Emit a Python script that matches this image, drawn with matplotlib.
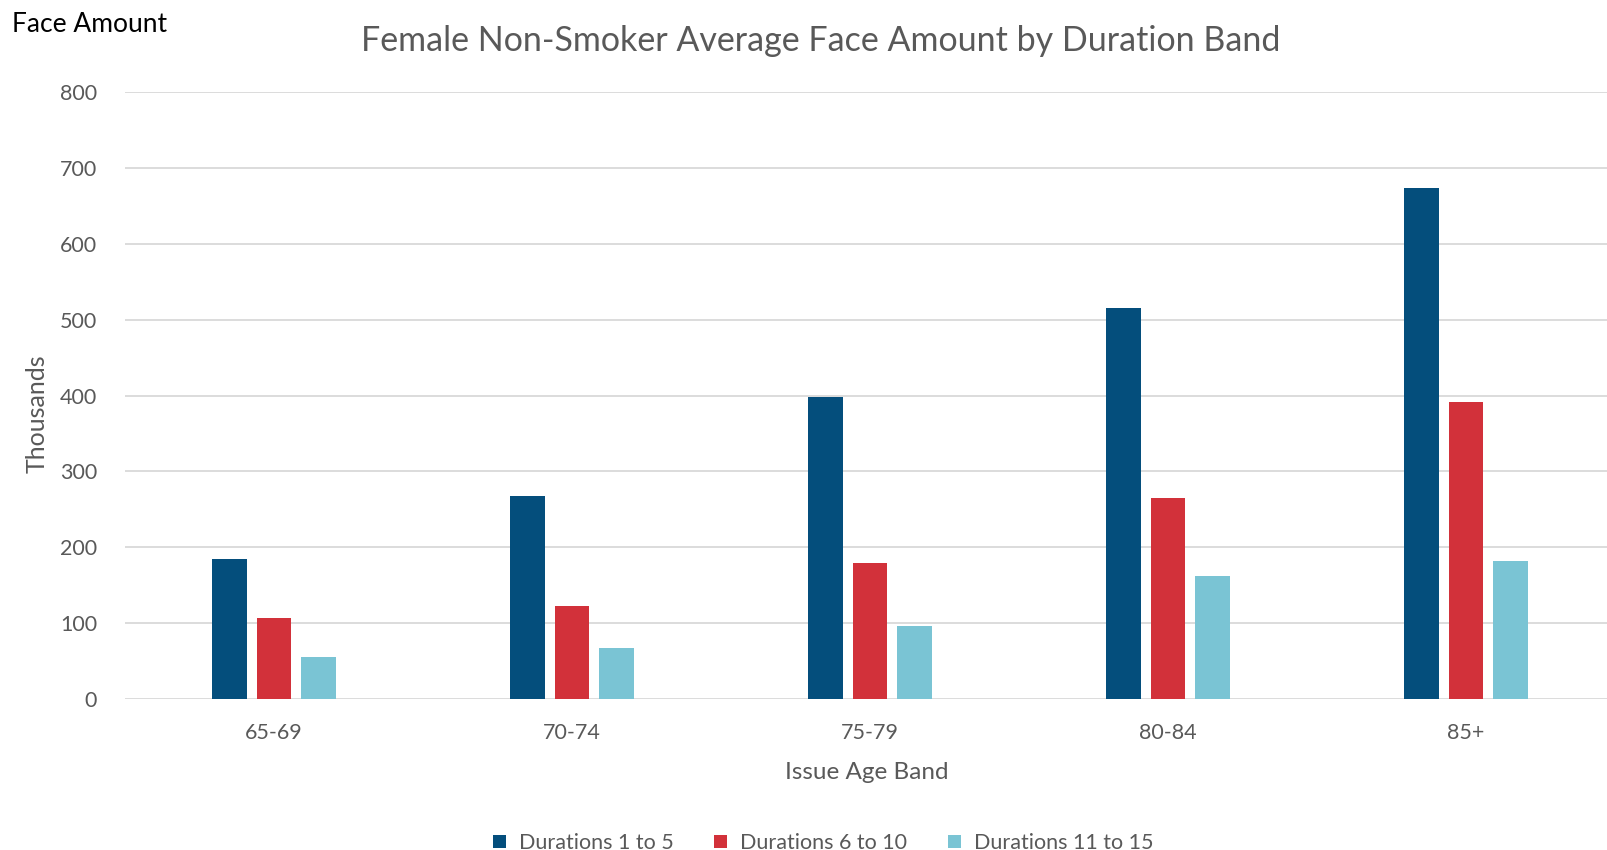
import numpy as np
import matplotlib
matplotlib.use("Agg")
import matplotlib.pyplot as plt
from matplotlib.patches import Patch

plt.rcParams['font.family'] = ['Lato', 'DejaVu Sans']

# dados (milhares)
faixas = ["65-69", "70-74", "75-79", "80-84", "85+"]
series = ["Durations 1 to 5", "Durations 6 to 10", "Durations 11 to 15"]
dur_1_5 = [185, 267, 398, 515, 674]
dur_6_10 = [107, 123, 179, 265, 392]
dur_11_15 = [56, 67, 96, 162, 182]
cores = ["#044E7C", "#D2313A", "#7AC4D4"]
cinza = "#595959"

W, H = 1608, 850
fig = plt.figure(figsize=(W / 100, H / 100), dpi=100)
ax = fig.add_axes([125 / W, 1 - 699 / H, (W - 125) / W, (699 - 92) / H])

x = np.arange(len(faixas))
passo = 0.148
larg = 0.117
for i, (vals, cor) in enumerate(zip([dur_1_5, dur_6_10, dur_11_15], cores)):
    ax.bar(x + (i - 1) * passo, vals, width=larg, color=cor, zorder=3)

ax.set_ylim(0, 800)
ax.set_yticks(range(0, 801, 100))
ax.set_xlim(-0.5, 4.5 - 7 / 298)
ax.set_xticks(x)
ax.set_xticklabels(faixas)
ax.grid(axis='y', color='#D9D9D9', linewidth=1.3, zorder=0)
for s in ax.spines.values():
    s.set_visible(False)
ax.tick_params(axis='both', length=0, labelsize=15.5, colors=cinza)
ax.tick_params(axis='y', pad=20)
ax.tick_params(axis='x', pad=17)

ax.set_xlabel("Issue Age Band", fontsize=17.5, color=cinza, labelpad=14)
fig.text(37 / W, 1 - 414 / H, "Thousands", rotation=90, fontsize=18, color=cinza,
         ha='center', va='center')
fig.text(12 / W, 1 - 25 / H, "Face Amount", fontsize=19, color='black', ha='left', va='center')
fig.text(821 / W, 1 - 41 / H, "Female Non-Smoker Average Face Amount by Duration Band",
         fontsize=24.5, color=cinza, ha='center', va='center')

handles = [Patch(facecolor=c, label=s) for c, s in zip(cores, series)]
fig.legend(handles=handles, loc='center', bbox_to_anchor=(823 / W, 1 - 843 / H), ncol=3,
           frameon=False, fontsize=15.5, labelcolor=cinza, handlelength=0.6, handleheight=0.6,
           columnspacing=1.9, handletextpad=0.6)

fig.savefig("out.png", dpi=100)
